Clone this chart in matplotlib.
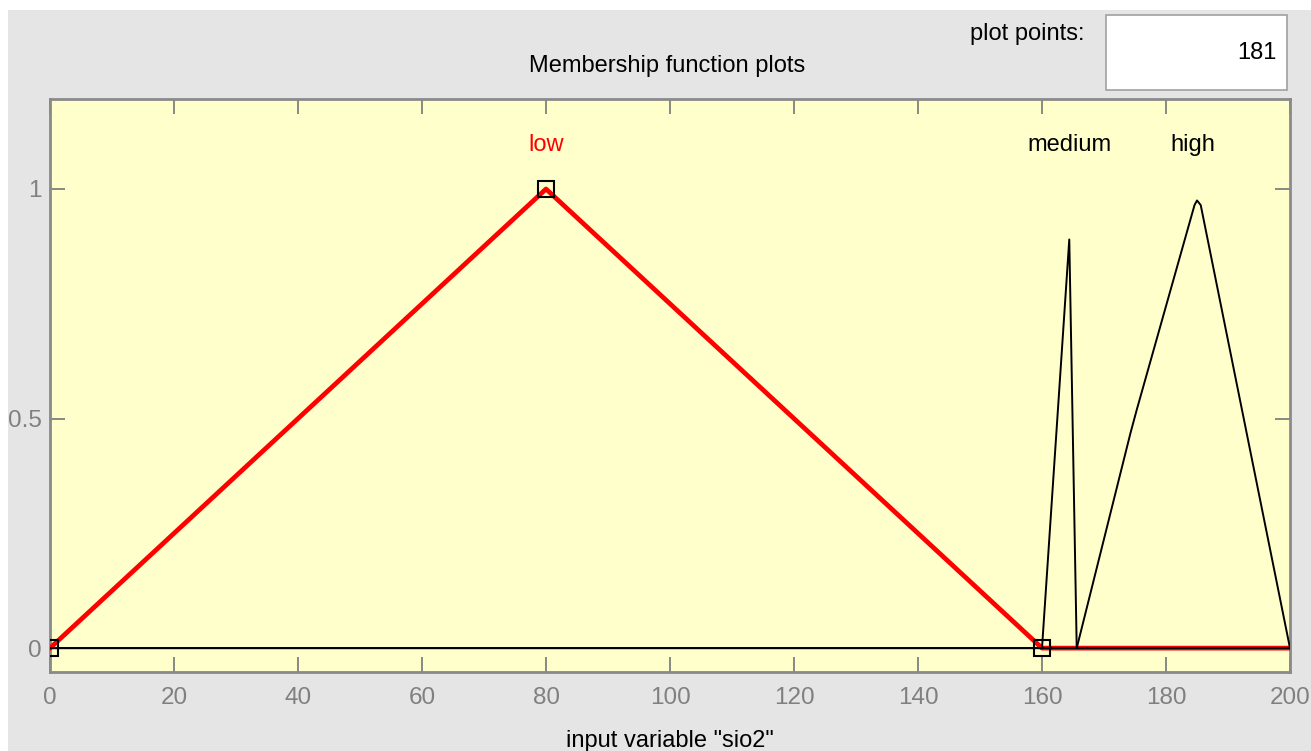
import matplotlib
matplotlib.use("Agg")
import matplotlib.pyplot as plt
from matplotlib.patches import Rectangle

plt.rcParams['font.family'] = ['Liberation Sans', 'DejaVu Sans']

# membership functions of input variable "sio2" (vertices)
low_x = [0, 80, 160, 200]
low_y = [0, 1, 0, 0]
low_params = [0, 80, 160]

medium_x = [0, 160, 164.4, 165.6, 200]
medium_y = [0, 0, 0.89, 0, 0]

high_x = [0, 165.6, 174.3, 175.3, 184.6, 185.0, 185.6, 200]
high_y = [0, 0, 0.47, 0.52, 0.965, 0.975, 0.965, 0]

mf_names = ["low", "medium", "high"]
label_x = [80, 164.4, 184.4]
label_colors = ["red", "black", "black"]

x_ticks = [0, 20, 40, 60, 80, 100, 120, 140, 160, 180, 200]
y_ticks = [0, 0.5, 1]
y_tick_labels = ["0", "0.5", "1"]
plot_points = "181"

W, H = 1311, 751
fig = plt.figure(figsize=(W / 100, H / 100), dpi=100)
fig.patch.set_facecolor("white")
fig.patches.append(Rectangle((8 / W, 0), 1, 1 - 10 / H, transform=fig.transFigure,
                             facecolor="#e5e5e5", edgecolor="none", zorder=-10))

ax = fig.add_axes([50 / W, 79 / H, 1240 / W, 573 / H])
ax.set_facecolor("#ffffcc")
ax.set_xlim(0, 200)
ax.set_ylim(-0.052, 1.196)

ax.plot(low_x, low_y, color="red", lw=3.4, zorder=3)
ax.plot(medium_x, medium_y, color="black", lw=1.4, zorder=4)
ax.plot(high_x, high_y, color="black", lw=1.4, zorder=4)
ax.plot(low_params, [0, 1, 0], linestyle="none", marker="s", markersize=11,
        markerfacecolor="none", markeredgecolor="black", markeredgewidth=1.5, zorder=5)

for name, lx, c in zip(mf_names, label_x, label_colors):
    ax.text(lx, 1.096, name, color=c, fontsize=17, ha="center", va="center", zorder=6)

ax.set_xticks(x_ticks)
ax.set_yticks(y_ticks)
ax.set_yticklabels(y_tick_labels)
ax.tick_params(direction="in", length=11, width=1.3, color="#808080",
               labelcolor="#808080", labelsize=17.5, top=True, right=True)
ax.tick_params(axis="x", pad=11)
ax.tick_params(axis="y", pad=6)
for s in ax.spines.values():
    s.set_color("#8a8a8a")
    s.set_linewidth(2)
ax.set_xlabel('input variable "sio2"', fontsize=17, color="black", labelpad=15)

fig.text(667 / W, 1 - 66 / H, "Membership function plots", fontsize=17,
         ha="center", va="center")
fig.text(1085 / W, 1 - 34 / H, "plot points:", fontsize=17, ha="right", va="center")
fig.patches.append(Rectangle((1106 / W, 1 - 90 / H), 181 / W, 75 / H, transform=fig.transFigure,
                             facecolor="white", edgecolor="#a0a0a0", lw=1.2, zorder=1))
fig.text(1277 / W, 1 - 53 / H, plot_points, fontsize=17, ha="right", va="center")

fig.savefig("out.png", dpi=100)
